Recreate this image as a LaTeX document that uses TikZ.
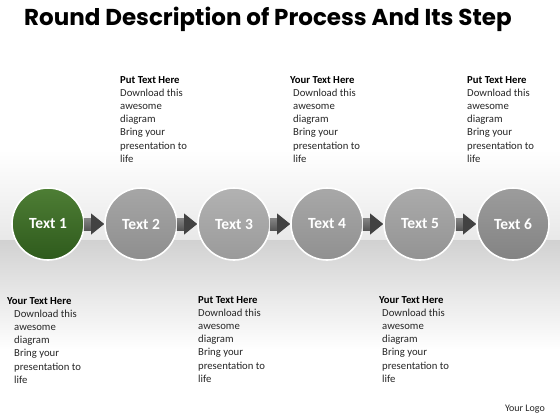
\documentclass[tikz,border=0pt]{standalone}
\usepackage{fontspec}
\setmainfont{Carlito}
\newfontfamily\titlefont{Poppins}[UprightFont=* Bold]
\usetikzlibrary{shadings}
\definecolor{gtop}{HTML}{4E7E35}
\definecolor{gbot}{HTML}{2E5A1C}
\definecolor{ctop2}{HTML}{A6A6A6}\definecolor{cbot2}{HTML}{8E8E8E}
\definecolor{ctop3}{HTML}{B2B2B2}\definecolor{cbot3}{HTML}{9A9A9A}
\definecolor{ctop4}{HTML}{A8A8A8}\definecolor{cbot4}{HTML}{909090}
\definecolor{ctop5}{HTML}{ABABAB}\definecolor{cbot5}{HTML}{939393}
\definecolor{ctop6}{HTML}{9C9C9C}\definecolor{cbot6}{HTML}{838383}
\begin{document}
\begin{tikzpicture}[x=1pt,y=-1pt,
  stepcircle/.style={circle,minimum size=72pt,inner sep=0pt,draw=white,line width=1.6pt,
    text=white,font=\fontsize{15.5}{17}\selectfont\bfseries},
  descr/.style={anchor=north west,inner sep=0pt,align=left,text=black!85,
    font=\fontsize{10.7}{13.2}\selectfont}
]
\useasboundingbox (0,0) rectangle (560,420);
\fill[white] (0,0) rectangle (560,420);
\shade[top color=white,bottom color=black!9] (0,150) rectangle (560,240);
\shade[top color=black!18,bottom color=white] (0,240) rectangle (560,350);
\node[anchor=base west,inner sep=0pt,font=\titlefont\fontsize{23}{26}\selectfont] (title) at (24,26)
  {Round Description of Process And Its Step};
% circles
\node[stepcircle,top color=gtop,bottom color=gbot] (c1) at (48,224) {Text 1};
\foreach \n/\x in {2/141,3/234,4/327,5/420,6/513}{
  \node[stepcircle,top color=ctop\n,bottom color=cbot\n] (c\n) at (\x,224) {Text \n};
}
% arrows
\foreach \a/\b in {c1/c2,c2/c3,c3/c4,c4/c5,c5/c6}{
  \fill[top color=black!48,bottom color=black!66] ([xshift=-1,yshift=-6]\a.east) rectangle ([xshift=-12,yshift=6]\b.west);
  \fill[black!74] ([xshift=-13,yshift=-10.5]\b.west) -- ([xshift=0]\b.west) -- ([xshift=-13,yshift=10.5]\b.west) -- cycle;
}
% descriptions
\node[descr] (d1) at (120,76) {\textbf{\color{black}Put Text Here}\\Download this\\awesome\\diagram\\Bring your\\presentation to\\life};
\node[descr] (d2) at (290,76) {\textbf{\color{black}Your Text Here}\\\hspace*{3pt}Download this\\\hspace*{3pt}awesome\\\hspace*{3pt}diagram\\\hspace*{3pt}Bring your\\\hspace*{3pt}presentation to\\\hspace*{3pt}life};
\node[descr] (d3) at (467,76) {\textbf{\color{black}Put Text Here}\\Download this\\awesome\\diagram\\Bring your\\presentation to\\life};
\node[descr] (d4) at (7,297) {\textbf{\color{black}Your Text Here}\\\hspace*{7pt}Download this\\\hspace*{7pt}awesome\\\hspace*{7pt}diagram\\\hspace*{7pt}Bring your\\\hspace*{7pt}presentation to\\\hspace*{7pt}life};
\node[descr] (d5) at (198,296) {\textbf{\color{black}Put Text Here}\\Download this\\awesome\\diagram\\Bring your\\presentation to\\life};
\node[descr] (d6) at (379,296) {\textbf{\color{black}Your Text Here}\\\hspace*{3pt}Download this\\\hspace*{3pt}awesome\\\hspace*{3pt}diagram\\\hspace*{3pt}Bring your\\\hspace*{3pt}presentation to\\\hspace*{3pt}life};
\node[anchor=base east,inner sep=0pt,font=\fontsize{10}{12}\selectfont,text=black!85] (logo) at (545,411) {Your Logo};
\end{tikzpicture}
\end{document}
